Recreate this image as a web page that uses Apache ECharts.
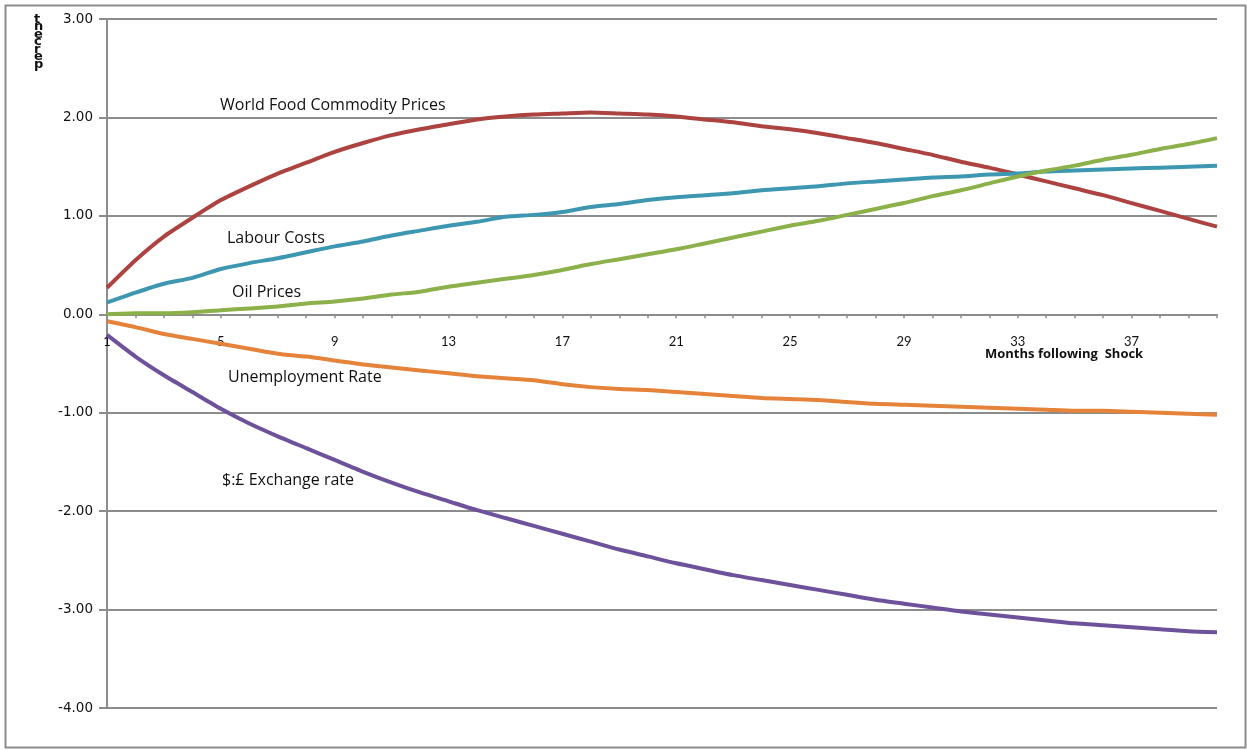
<!DOCTYPE html>
<html><head><meta charset="utf-8">
<script src="https://cdn.jsdelivr.net/npm/echarts@6/dist/echarts.min.js"></script>
<style>html,body{margin:0;padding:0;background:#fff}#c{width:1247px;height:750px}</style>
</head><body><div id="c"></div>
<script>
const months = Array.from({length:40},(_,i)=>String(i+1));
const yTicks = [-4,-3,-2,-1,0,1,2,3];
const foodPrices = [0.27,0.55,0.79,0.98,1.16,1.30,1.43,1.54,1.65,1.74,1.82,1.88,1.93,1.98,2.01,2.03,2.04,2.05,2.04,2.03,2.01,1.98,1.95,1.91,1.88,1.84,1.79,1.74,1.68,1.62,1.55,1.49,1.42,1.35,1.28,1.21,1.13,1.05,0.97,0.89];
const labourCosts = [0.12,0.22,0.31,0.37,0.46,0.52,0.57,0.63,0.69,0.74,0.80,0.85,0.90,0.94,0.99,1.01,1.04,1.09,1.12,1.16,1.19,1.21,1.23,1.26,1.28,1.30,1.33,1.35,1.37,1.39,1.40,1.42,1.43,1.45,1.46,1.47,1.48,1.49,1.50,1.51];
const oilPrices = [0.00,0.01,0.01,0.02,0.04,0.06,0.08,0.11,0.13,0.16,0.20,0.23,0.28,0.32,0.36,0.40,0.45,0.51,0.56,0.61,0.66,0.72,0.78,0.84,0.90,0.95,1.01,1.07,1.13,1.20,1.26,1.33,1.40,1.46,1.51,1.57,1.62,1.68,1.73,1.79];
const unemployment = [-0.07,-0.13,-0.20,-0.25,-0.30,-0.35,-0.40,-0.43,-0.47,-0.51,-0.54,-0.57,-0.60,-0.63,-0.65,-0.67,-0.71,-0.74,-0.76,-0.77,-0.79,-0.81,-0.83,-0.85,-0.86,-0.87,-0.89,-0.91,-0.92,-0.93,-0.94,-0.95,-0.96,-0.97,-0.98,-0.98,-0.99,-1.00,-1.01,-1.02];
const exchangeRate = [-0.21,-0.43,-0.62,-0.79,-0.96,-1.11,-1.24,-1.36,-1.48,-1.60,-1.71,-1.81,-1.90,-1.99,-2.07,-2.15,-2.23,-2.31,-2.39,-2.46,-2.53,-2.59,-2.65,-2.70,-2.75,-2.80,-2.85,-2.90,-2.94,-2.98,-3.02,-3.05,-3.08,-3.11,-3.14,-3.16,-3.18,-3.20,-3.22,-3.23];
const seriesNames = ['World Food Commodity Prices','Labour Costs','Oil Prices','Unemployment Rate','$:£ Exchange rate'];
const seriesData = [foodPrices, labourCosts, oilPrices, unemployment, exchangeRate];
const colors = ['#AD4340','#3E97B1','#8CB04A','#E5833A','#6D529B'];
const labelPos = [[220,97],[227,230],[232,284],[228,369],[222,472]];

const chart = echarts.init(document.getElementById('c'));
const GREY = '#8c8c8c';
chart.setOption({
  animation:false,
  backgroundColor:'#fff',
  grid:{left:107,right:30,top:19,bottom:42},
  xAxis:{type:'category',data:months,boundaryGap:false,
    axisLine:{onZero:true,lineStyle:{color:GREY,width:2}},
    axisTick:{show:true,interval:0,length:4,lineStyle:{color:GREY,width:1.5}},
    axisLabel:{interval:3,color:'#111',fontSize:13,fontFamily:'Lato',margin:-373},
    splitLine:{show:false}},
  yAxis:{type:'value',min:-4,max:3,interval:1,
    axisLine:{show:true,lineStyle:{color:GREY,width:2}},
    axisTick:{show:true,length:8,lineStyle:{color:GREY,width:2}},
    axisLabel:{formatter:v=>v.toFixed(2),color:'#111',fontSize:13.5,fontFamily:'DejaVu Sans',margin:14},
    splitLine:{show:true,lineStyle:{color:GREY,width:2}}},
  series: seriesNames.map((n,i)=>({name:n,type:'line',data:seriesData[i],showSymbol:false,smooth:0.2,
    lineStyle:{color:colors[i],width:4},itemStyle:{color:colors[i]},z:3+i})),
  graphic:[
    {type:'rect',left:3,top:3,shape:{width:1240,height:742},style:{fill:'none',stroke:GREY,lineWidth:2},z:-1},
    {type:'text',left:34,top:13,style:{text:'t\nn\ne\nc\nr\ne\np',font:'bold 13px DejaVu Sans',fill:'#111',lineHeight:7.5}},
    {type:'text',left:985,top:348,style:{text:'Months following  Shock',font:'bold 13px Open Sans',fill:'#111'}}
  ].concat(seriesNames.map((n,i)=>({type:'text',left:labelPos[i][0],top:labelPos[i][1],
    style:{text:n,font:'16px Open Sans',fill:'#111'}})))
});
</script></body></html>
